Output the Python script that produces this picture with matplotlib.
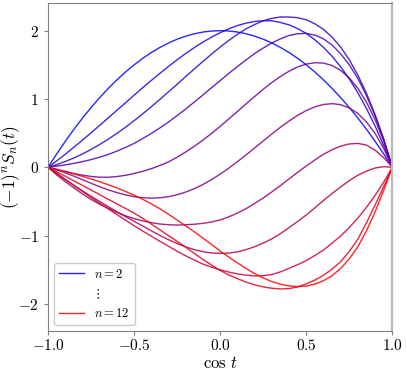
import matplotlib
matplotlib.use("Agg")
import matplotlib.pyplot as plt
from matplotlib.lines import Line2D
from matplotlib.ticker import FuncFormatter

plt.rcParams['mathtext.fontset'] = 'cm'

# abscisse commune (cos t), pas de 0.05
u = [-1, -0.95, -0.9, -0.85, -0.8, -0.75, -0.7, -0.65, -0.6, -0.55, -0.5,
     -0.45, -0.4, -0.35, -0.3, -0.25, -0.2, -0.15, -0.1, -0.05, 0,
     0.05, 0.1, 0.15, 0.2, 0.25, 0.3, 0.35, 0.4, 0.45, 0.5,
     0.55, 0.6, 0.65, 0.7, 0.75, 0.8, 0.85, 0.9, 0.95, 1]

# valeurs, n = 2 .. 12
s2 = [0, 0.195, 0.38, 0.555, 0.72, 0.875, 1.02, 1.155, 1.28, 1.395, 1.5,
      1.595, 1.68, 1.755, 1.82, 1.875, 1.92, 1.955, 1.98, 1.995, 2.0,
      1.995, 1.98, 1.955, 1.92, 1.875, 1.82, 1.755, 1.68, 1.595, 1.5,
      1.395, 1.28, 1.155, 1.02, 0.875, 0.72, 0.555, 0.38, 0.195, 0]
s3 = [0, 0.094, 0.192, 0.294, 0.398, 0.505, 0.614, 0.724, 0.835, 0.945, 1.056,
      1.165, 1.272, 1.376, 1.477, 1.574, 1.667, 1.753, 1.833, 1.906, 1.97,
      2.028, 2.075, 2.11, 2.135, 2.145, 2.145, 2.12, 2.085, 2.03, 1.96,
      1.866, 1.756, 1.625, 1.471, 1.293, 1.089, 0.86, 0.603, 0.316, 0]
s4 = [0, 0.039, 0.085, 0.137, 0.196, 0.261, 0.334, 0.412, 0.497, 0.587, 0.683,
      0.783, 0.887, 0.995, 1.105, 1.216, 1.329, 1.44, 1.55, 1.657, 1.76,
      1.857, 1.946, 2.027, 2.09, 2.145, 2.18, 2.2, 2.2, 2.19, 2.16,
      2.1, 2.02, 1.905, 1.76, 1.574, 1.348, 1.08, 0.769, 0.41, 0]
s5 = [0, 0.017, 0.036, 0.058, 0.083, 0.113, 0.148, 0.189, 0.237, 0.291, 0.35,
      0.421, 0.496, 0.577, 0.664, 0.757, 0.854, 0.956, 1.059, 1.165, 1.27,
      1.374, 1.475, 1.571, 1.665, 1.745, 1.82, 1.88, 1.93, 1.955, 1.96,
      1.935, 1.88, 1.79, 1.66, 1.5, 1.3, 1.048, 0.754, 0.406, 0]
s6 = [0, -0.03, -0.06, -0.09, -0.115, -0.133, -0.145, -0.145, -0.135, -0.117, -0.09,
      -0.058, -0.02, 0.027, 0.08, 0.148, 0.225, 0.308, 0.399, 0.496, 0.6,
      0.708, 0.817, 0.928, 1.037, 1.142, 1.241, 1.329, 1.407, 1.469, 1.511,
      1.531, 1.526, 1.49, 1.418, 1.308, 1.155, 0.952, 0.696, 0.38, 0]
s7 = [0, -0.036, -0.08, -0.129, -0.181, -0.233, -0.284, -0.33, -0.37, -0.404, -0.429,
      -0.445, -0.451, -0.446, -0.429, -0.401, -0.362, -0.312, -0.251, -0.18, -0.1,
      -0.012, 0.082, 0.181, 0.283, 0.386, 0.488, 0.586, 0.678, 0.761, 0.831,
      0.885, 0.92, 0.932, 0.916, 0.869, 0.787, 0.663, 0.495, 0.275, 0]
s8 = [0, -0.11, -0.21, -0.3, -0.39, -0.47, -0.54, -0.6, -0.66, -0.71, -0.75,
      -0.785, -0.81, -0.83, -0.84, -0.845, -0.84, -0.833, -0.82, -0.8, -0.77,
      -0.725, -0.67, -0.605, -0.53, -0.448, -0.36, -0.267, -0.17, -0.073, 0.02,
      0.108, 0.19, 0.258, 0.31, 0.342, 0.35, 0.325, 0.25, 0.14, 0]
s9 = [0, -0.09, -0.179, -0.263, -0.345, -0.424, -0.5, -0.576, -0.65, -0.72, -0.79,
      -0.86, -0.93, -0.997, -1.06, -1.115, -1.165, -1.205, -1.235, -1.253, -1.26,
      -1.255, -1.238, -1.205, -1.162, -1.108, -1.047, -0.97, -0.882, -0.792, -0.698,
      -0.593, -0.486, -0.383, -0.286, -0.195, -0.115, -0.055, -0.01, 0.01, 0]
s10 = [0, -0.088, -0.177, -0.265, -0.353, -0.44, -0.525, -0.608, -0.691, -0.773, -0.855,
       -0.933, -1.008, -1.083, -1.156, -1.228, -1.296, -1.358, -1.416, -1.462, -1.5,
       -1.533, -1.56, -1.578, -1.59, -1.585, -1.57, -1.53, -1.478, -1.425, -1.365,
       -1.29, -1.21, -1.11, -1.005, -0.88, -0.742, -0.585, -0.41, -0.215, 0]
s11 = [0, -0.065, -0.13, -0.198, -0.265, -0.333, -0.4, -0.468, -0.535, -0.602, -0.67,
       -0.748, -0.83, -0.915, -1.0, -1.085, -1.17, -1.26, -1.35, -1.43, -1.51,
       -1.575, -1.63, -1.68, -1.72, -1.75, -1.77, -1.78, -1.775, -1.75, -1.705,
       -1.65, -1.58, -1.49, -1.38, -1.23, -1.05, -0.81, -0.55, -0.28, 0]
s12 = [0, -0.03, -0.062, -0.096, -0.132, -0.17, -0.211, -0.255, -0.302, -0.353, -0.408,
       -0.468, -0.535, -0.608, -0.688, -0.772, -0.858, -0.945, -1.035, -1.13, -1.225,
       -1.315, -1.398, -1.48, -1.555, -1.62, -1.672, -1.71, -1.735, -1.745, -1.738,
       -1.71, -1.66, -1.585, -1.48, -1.34, -1.16, -0.93, -0.65, -0.335, 0]

courbes = [s2, s3, s4, s5, s6, s7, s8, s9, s10, s11, s12]

fig = plt.figure(figsize=(4.07, 3.71), dpi=100)
ax = fig.add_axes([0.118, 0.107, 0.846, 0.884])

for i, s in enumerate(courbes):
    c = (i / 10, 0, 1 - i / 10)
    ax.plot(u, s, color=c, lw=1.0, alpha=0.85)

ax.set_xlim(-1, 1)
ax.set_ylim(-2.4, 2.4)
ax.set_xticks([-1, -0.5, 0, 0.5, 1])
ax.set_yticks([-2, -1, 0, 1, 2])
ax.xaxis.set_major_formatter(FuncFormatter(lambda x, p: r'$%.1f$' % x))
ax.yaxis.set_major_formatter(FuncFormatter(lambda y, p: r'$%d$' % y))
ax.tick_params(labelsize=11, length=3, color='#808080')
ax.tick_params(axis='x', pad=2)

for side in ['left', 'bottom', 'top']:
    ax.spines[side].set_color('#808080')
ax.spines['right'].set_color('#b8b8b8')
ax.spines['right'].set_linewidth(1.6)

ax.set_xlabel(r'$\cos\,t$', fontsize=12)
ax.set_ylabel(r'$(-1)^n S_n(t)$', fontsize=12.5)
ax.xaxis.set_label_coords(0.5, -0.07)
ax.yaxis.set_label_coords(-0.076, 0.5)

# légende : n = 2, points, n = 12
handles = [Line2D([], [], color=(0, 0, 1), lw=1.0, alpha=0.85),
           Line2D([], [], color='none'),
           Line2D([], [], color=(1, 0, 0), lw=1.0, alpha=0.85)]
labels = [r'$n=2$', r'$\vdots$', r'$n=12$']
ax.legend(handles, labels, loc='lower left', fontsize=9, framealpha=1)

fig.savefig('out.png', dpi=100)
